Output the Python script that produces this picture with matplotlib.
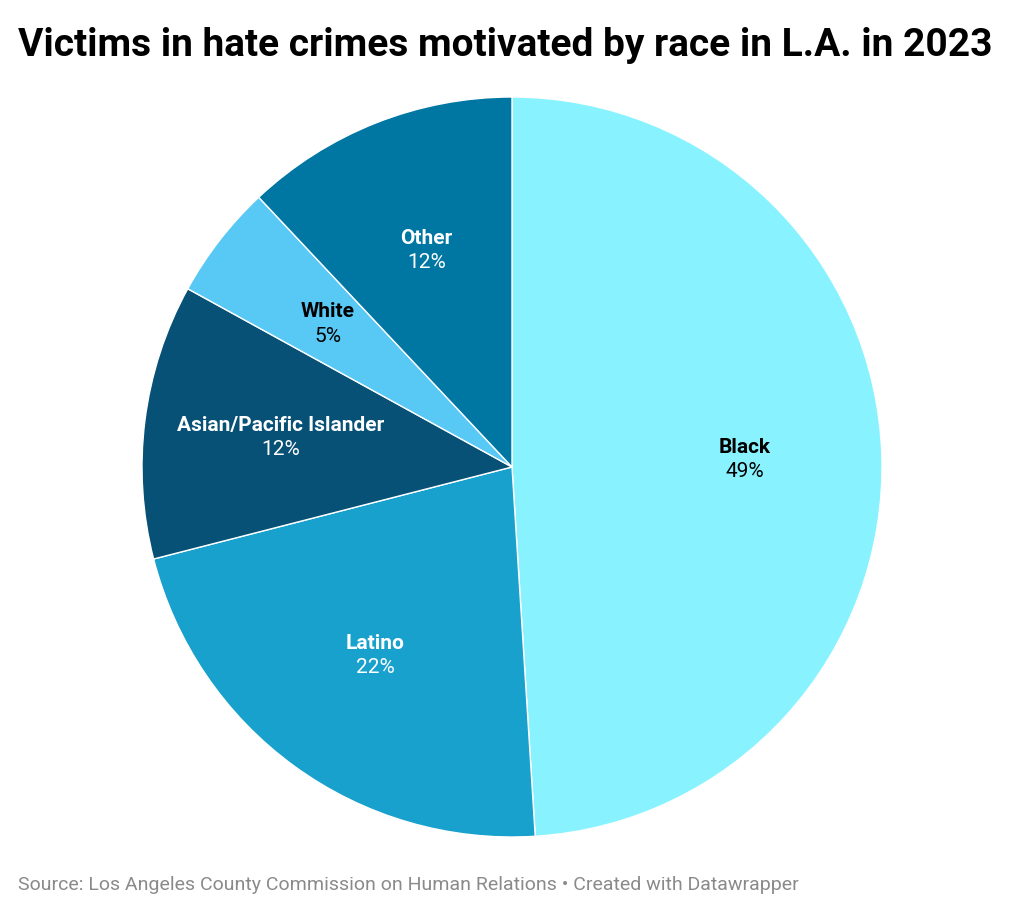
import matplotlib
matplotlib.use("Agg")
import matplotlib.pyplot as plt
import numpy as np

# data
categories = ["Black", "Latino", "Asian/Pacific Islander", "White", "Other"]
shares     = [49, 22, 12, 5, 12]
colors     = ["#88F3FF", "#19A1CD", "#085176", "#58C8F5", "#0076A3"]
label_col  = ["black", "white", "white", "black", "white"]

plt.rcParams["font.family"] = ["Roboto", "DejaVu Sans"]

fig = plt.figure(figsize=(10.24, 9.15), dpi=100)
fig.patch.set_facecolor("white")

W, H = 1024, 915
cx, cy, R = 512, 467, 370
ax = fig.add_axes([(cx - R) / W, (H - cy - R) / H, 2 * R / W, 2 * R / H])

wedges, _ = ax.pie(shares, colors=colors, startangle=90, counterclock=False,
                   radius=1.0, wedgeprops=dict(edgecolor="white", linewidth=1))
ax.set_xlim(-1, 1); ax.set_ylim(-1, 1)
ax.set_aspect("equal")
ax.axis("off")

total = sum(shares)
cum = 0
for name, val, tc in zip(categories, shares, label_col):
    mid = 90 - 360 * (cum + val / 2) / total
    cum += val
    r = 0.63
    x, y = r * np.cos(np.radians(mid)), r * np.sin(np.radians(mid))
    ax.text(x, y + 0.033, name, ha="center", va="center", fontsize=15,
            fontweight="bold", color=tc)
    ax.text(x, y - 0.033, f"{val}%", ha="center", va="center", fontsize=15,
            color=tc)

fig.text(18 / W, 1 - 46 / H, "Victims in hate crimes motivated by race in L.A. in 2023",
         ha="left", va="center", fontsize=28, fontweight="bold", color="black")
fig.text(18 / W, 1 - 885 / H,
         "Source: Los Angeles County Commission on Human Relations \u2022 Created with Datawrapper",
         ha="left", va="center", fontsize=14, color="#8a8a8a")

fig.savefig("out.png", dpi=100)
